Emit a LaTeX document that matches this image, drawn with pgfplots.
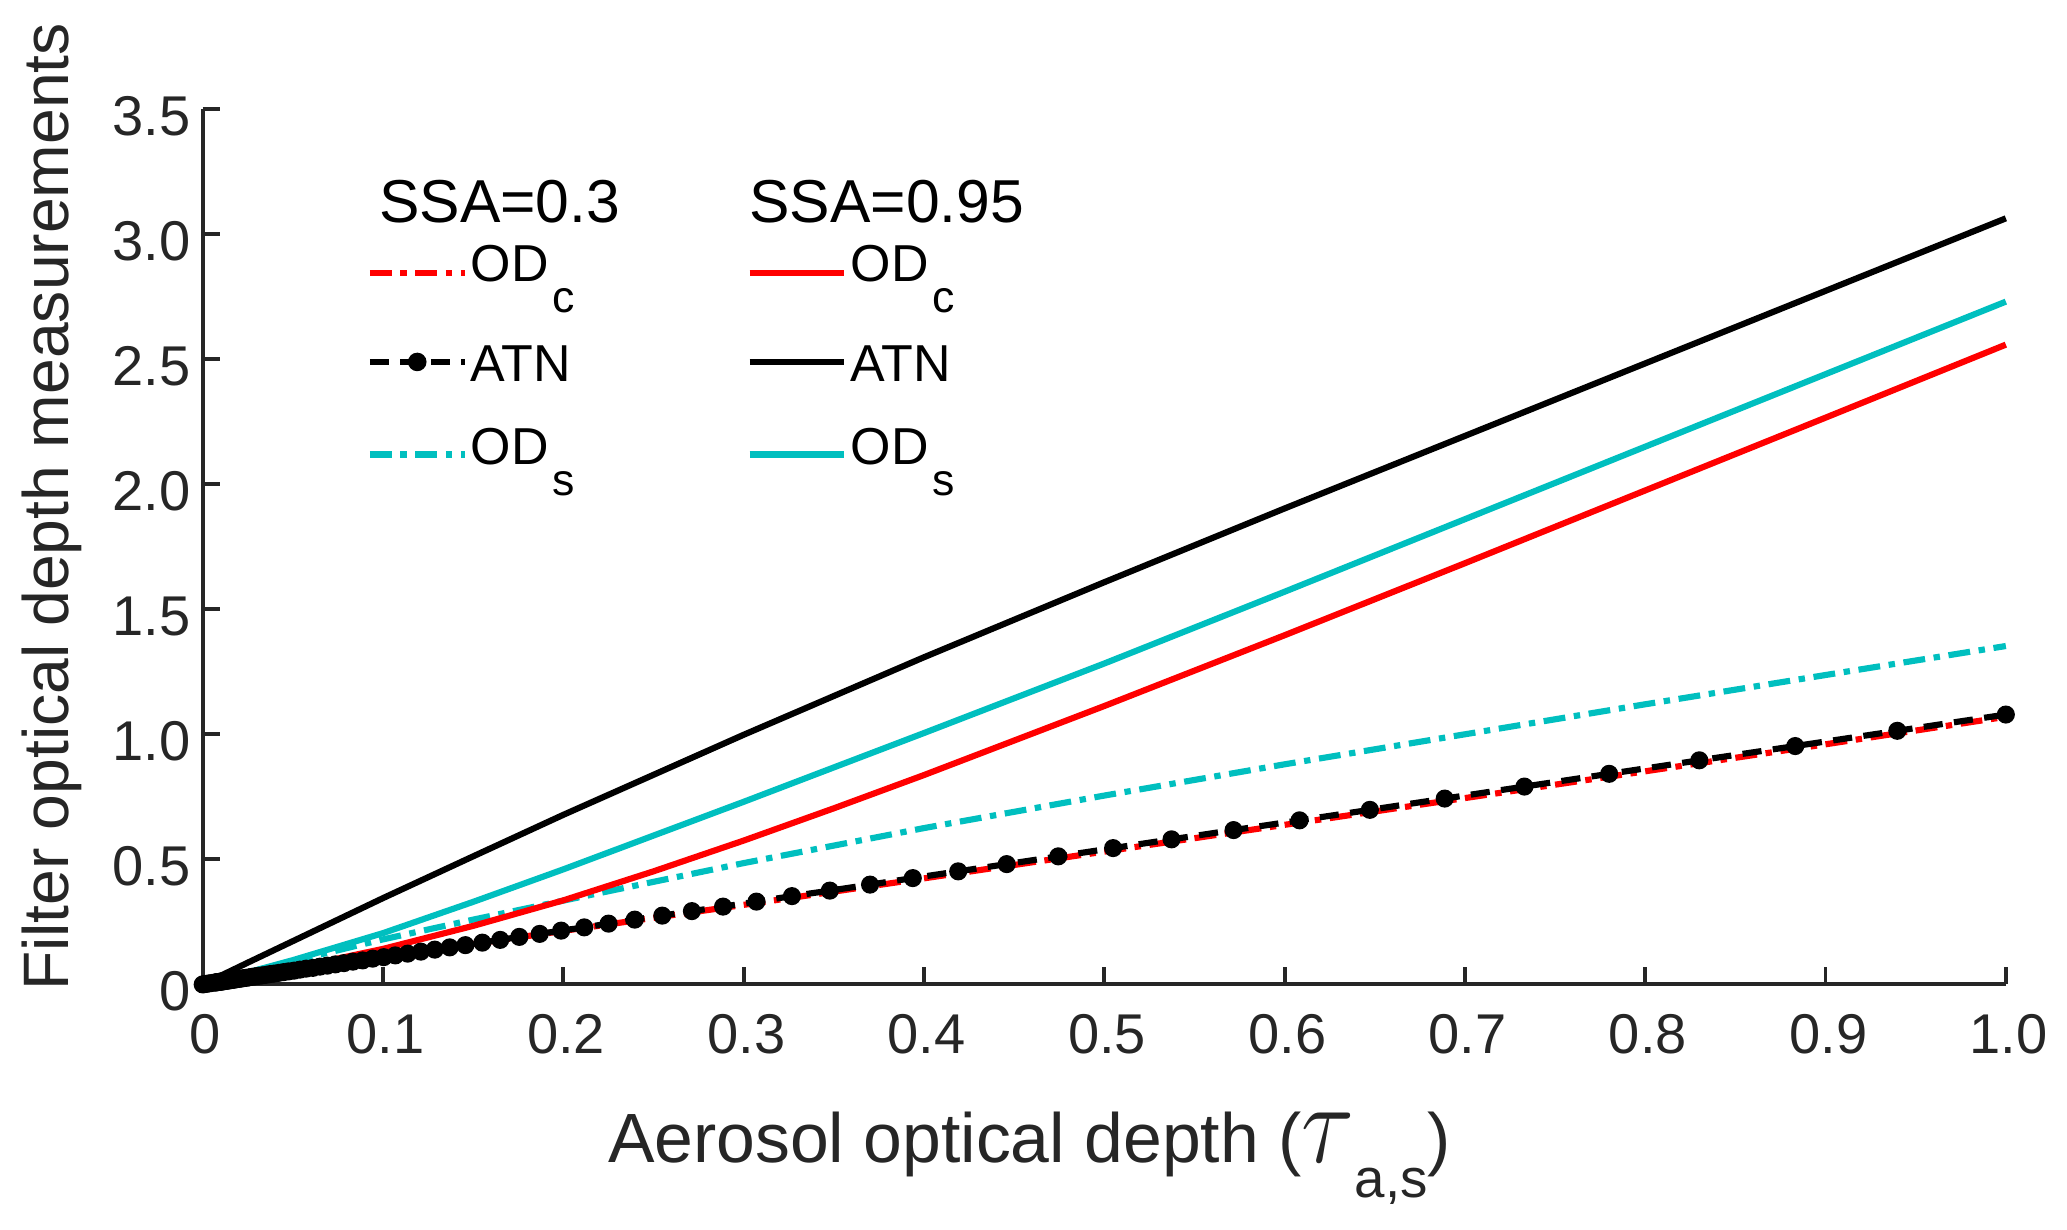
\documentclass[border=0pt]{standalone}
\usepackage{fontspec}
\setmainfont{Liberation Sans}
\usepackage{graphicx}
\usepackage{pgfplots}
\pgfplotsset{compat=1.18}
\definecolor{axgray}{rgb}{0.15,0.15,0.15}
\definecolor{mred}{rgb}{1,0,0}
\definecolor{mcyan}{rgb}{0,0.75,0.75}

\newcommand{\legtxt}[1]{\makebox[59.8pt][l]{#1}}
\newcommand{\sub}[1]{\hspace{0.8pt}\raisebox{-6.8pt}{\fontsize{9.8}{9.8}\selectfont #1}}
\newcommand{\strutH}{\rule[-3.6pt]{0pt}{12pt}}
\newcommand{\strutC}{\rule[-5.4pt]{0pt}{14.6pt}}
\newcommand{\strutA}{\rule[-7.9pt]{0pt}{24.6pt}}
\newcommand{\strutS}{\rule[-5.7pt]{0pt}{16pt}}
\newcommand{\hfont}{\fontsize{13.3}{13.3}\selectfont}

\pgfplotstableread{
x y
0 0
0.0010 0.0011
0.0020 0.0022
0.0035 0.0039
0.0050 0.0055
0.0069 0.0076
0.0074 0.0081
0.0079 0.0087
0.0084 0.0092
0.0089 0.0098
0.0095 0.0104
0.0101 0.0110
0.0107 0.0118
0.0114 0.0125
0.0121 0.0130
0.0129 0.014
0.0137 0.015
0.0146 0.016
0.0156 0.017
0.0166 0.018
0.0176 0.019
0.0188 0.021
0.0200 0.022
0.0212 0.023
0.0226 0.025
0.0240 0.026
0.0256 0.028
0.0272 0.030
0.0290 0.032
0.0308 0.034
0.0328 0.036
0.0349 0.038
0.0372 0.041
0.0395 0.043
0.0421 0.046
0.0448 0.049
0.0476 0.052
0.0507 0.055
0.0539 0.059
0.0574 0.063
0.0611 0.066
0.0650 0.071
0.0691 0.075
0.0736 0.080
0.0783 0.085
0.0833 0.091
0.0887 0.096
0.0943 0.103
0.1004 0.109
0.1068 0.116
0.1137 0.123
0.1210 0.131
0.1287 0.139
0.1370 0.148
0.1457 0.157
0.1551 0.167
0.1650 0.178
0.1756 0.190
0.1869 0.202
0.1988 0.215
0.2116 0.228
0.2251 0.243
0.2396 0.259
0.2549 0.275
0.2713 0.293
0.2886 0.311
0.3071 0.331
0.3268 0.353
0.3478 0.375
0.3701 0.399
0.3938 0.425
0.4190 0.452
0.4459 0.481
0.4745 0.512
0.5049 0.545
0.5373 0.580
0.5717 0.617
0.6083 0.656
0.6473 0.698
0.6888 0.743
0.7330 0.791
0.7800 0.842
0.8300 0.896
0.8832 0.953
0.9398 1.014
1.0000 1.079
}\atnlow

\pgfplotstableread{
x y
0 0
0.05 0.054
0.1 0.109
0.2 0.214
0.3 0.318
0.4 0.424
0.5 0.531
0.6 0.638
0.7 0.745
0.8 0.852
0.9 0.960
1.0 1.070
}\odclow

\pgfplotstableread{
x y
0 0
0.025 0.047
0.05 0.093
0.1 0.180
0.15 0.259
0.2 0.335
0.3 0.485
0.4 0.625
0.5 0.755
0.6 0.880
0.7 1.000
0.8 1.120
0.9 1.237
1.0 1.353
}\odslow

\pgfplotstableread{
x y
0 0
0.025 0.031
0.05 0.065
0.1 0.142
0.15 0.234
0.2 0.336
0.25 0.452
0.3 0.575
0.35 0.704
0.4 0.837
0.5 1.113
0.6 1.396
0.7 1.684
0.8 1.975
0.9 2.266
1.0 2.558
}\odchigh

\pgfplotstableread{
x y
0 0
0.025 0.048
0.05 0.097
0.1 0.205
0.15 0.330
0.2 0.460
0.3 0.730
0.4 1.005
0.5 1.283
0.6 1.570
0.7 1.860
0.8 2.150
0.9 2.440
1.0 2.730
}\odshigh

\pgfplotstableread{
x y
0 0
0.025 0.087
0.05 0.173
0.1 0.345
0.15 0.512
0.2 0.678
0.3 0.998
0.4 1.308
0.5 1.608
0.6 1.903
0.7 2.193
0.8 2.483
0.9 2.773
1.0 3.063
}\atnhigh

\begin{document}
\begin{tikzpicture}
\useasboundingbox (0,0) rectangle (453.6pt,269.9pt);
\begin{axis}[
  at={(44.48pt,53.87pt)}, anchor=south west,
  scale only axis, width=395.7pt, height=192.1pt,
  xmin=0, xmax=1, ymin=0, ymax=3.5,
  clip=false,
  axis x line=bottom, axis y line=left,
  axis line style={-, draw=axgray, line width=0.85pt},
  x axis line style={-}, y axis line style={-},
  xtick={0,0.1,0.2,0.3,0.4,0.5,0.6,0.7,0.8,0.9,1.0},
  xticklabels={0,0.1,0.2,0.3,0.4,0.5,0.6,0.7,0.8,0.9,1.0},
  ytick={0,0.5,1,1.5,2,2.5,3,3.5},
  yticklabels={0,0.5,1.0,1.5,2.0,2.5,3.0,3.5},
  tick align=inside,
  major tick length=3.8pt,
  every tick/.style={draw=axgray, line width=0.85pt},
  tick label style={font=\fontsize{12.3}{12.3}\selectfont, text=axgray},
  xticklabel style={yshift=-3.1pt, xshift=0.6pt},
  yticklabel style={yshift=-1.5pt, xshift=0.8pt},
  xlabel={Aerosol optical depth (\scalebox{1.5}[1.75]{$\tau$}\raisebox{-7.5pt}{\fontsize{12}{12}\selectfont a,s})},
  ylabel={Filter optical depth measurements},
  xlabel style={at={(axis description cs:0.4585,-0.204)}, anchor=base, font=\fontsize{15.3}{15.3}\selectfont, text=axgray},
  ylabel style={at={(axis description cs:-0.0743,0.5455)}, anchor=base, font=\fontsize{14.1}{14.1}\selectfont, text=axgray},
  legend columns=2,
  legend cell align=left,
  legend image code/.code={\draw[mark repeat=2,mark phase=2,#1] plot coordinates {(0pt,0pt) (10.4pt,0pt) (20.8pt,0pt)};},
  legend style={at={(0.091,0.9136)}, anchor=north west, draw=none, fill=none,
    inner xsep=0pt, inner ysep=0pt, outer sep=0pt, row sep=0pt, column sep=0.7pt,
    nodes={inner sep=0pt, text depth=, text height=},
    cells={anchor=west},
    font=\fontsize{11.4}{11.4}\selectfont, text=black},
]
% legend images
\addlegendimage{empty legend}
\addlegendentry{\legtxt{\strutH\hspace*{-20.1pt}\smash{\hfont SSA=0.3}}}
\addlegendimage{empty legend}
\addlegendentry{\strutH\hspace*{-22.2pt}\smash{\hfont SSA=0.95}}
\addlegendimage{mred, line width=1.35pt, dash pattern=on 4.8pt off 1.9pt on 1.4pt off 1.9pt}
\addlegendentry{\legtxt{\strutC\smash{OD\sub{c}}}}
\addlegendimage{mred, line width=1.35pt}
\addlegendentry{\strutC\smash{OD\sub{c}}}
\addlegendimage{black, line width=1.35pt, dash pattern=on 4.2pt off 2.5pt, mark=*, mark size=1.35pt, mark options={solid, fill=black}}
\addlegendentry{\legtxt{\strutA ATN}}
\addlegendimage{black, line width=1.35pt}
\addlegendentry{\strutA ATN}
\addlegendimage{mcyan, line width=1.35pt, dash pattern=on 4.8pt off 1.9pt on 1.4pt off 1.9pt}
\addlegendentry{\legtxt{\strutS\smash{OD\sub{s}}}}
\addlegendimage{mcyan, line width=1.35pt}
\addlegendentry{\strutS\smash{OD\sub{s}}}

% data
\addplot[forget plot, mred, line width=1.35pt, dash pattern=on 4.8pt off 1.9pt on 1.4pt off 1.9pt] table {\odclow};
\addplot[forget plot, black, line width=1.35pt, dash pattern=on 4.2pt off 2.5pt, mark=*, mark size=1.3pt, mark options={solid, fill=black}] table {\atnlow};
\addplot[forget plot, mcyan, line width=1.35pt, dash pattern=on 4.8pt off 1.9pt on 1.4pt off 1.9pt] table {\odslow};
\addplot[forget plot, mred, line width=1.35pt] table {\odchigh};
\addplot[forget plot, mcyan, line width=1.35pt] table {\odshigh};
\addplot[forget plot, black, line width=1.35pt] table {\atnhigh};
\end{axis}
\end{tikzpicture}
\end{document}
